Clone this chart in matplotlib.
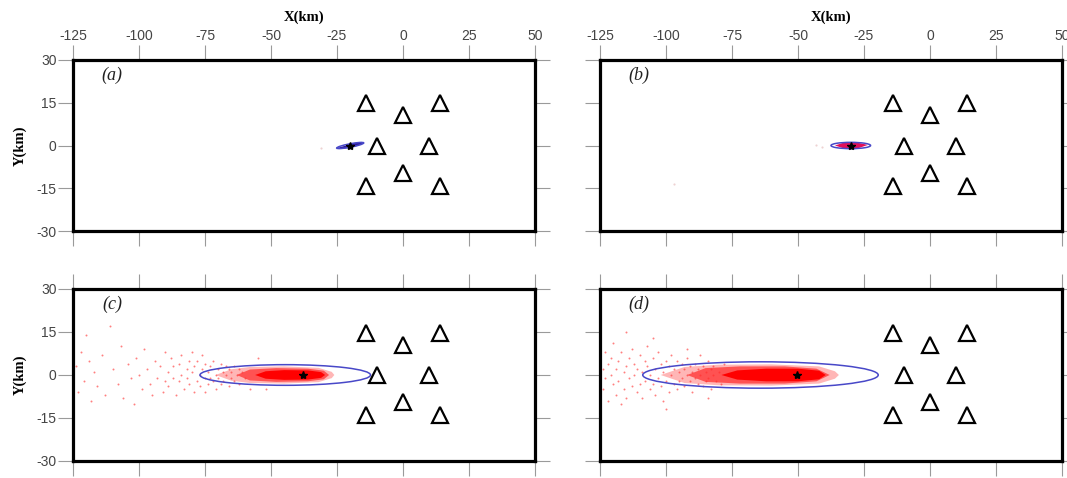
import numpy as np
import matplotlib.pyplot as plt
from matplotlib.patches import Ellipse, Polygon

plt.rcParams['font.family'] = 'Liberation Sans'
plt.rcParams['axes.unicode_minus'] = False

x_ticks = [-125, -100, -75, -50, -25, 0, 25, 50]
y_ticks = [-30, -15, 0, 15, 30]
panel_labels = ['(a)', '(b)', '(c)', '(d)']

# stations
sta_x = [-14, 0, 14, -10, 10, 0, -14, 14]
sta_y = [14.7, 10.5, 14.7, 0, 0, -9.5, -14, -14]

# true / located event
star_x = [-20, -30, -38, -50.5]
star_y = [0, 0, 0, 0]

# error ellipses
ell_x = [-20, -30, -44.6, -64.2]
ell_y = [0, 0, 0, 0]
ell_a = [5.2, 7.5, 32.3, 44.6]
ell_b = [0.6, 1.1, 3.6, 4.6]
ell_ang = [10, 0, 0, 0]

# dense part of the solution cloud (outlines)
a_core_x = [-25.1, -22, -19.5, -17, -14.8, -17, -19.5, -22]
a_core_y = [-0.9, -0.1, 0.8, 0.9, 0.8, 0.0, -0.8, -1.0]
b_core_x = [-36, -33, -27, -23.5, -27, -33]
b_core_y = [0, 0.9, 0.9, 0.2, -0.9, -0.9]
c_halo_x = [-71, -65, -58, -45, -32, -27, -26, -27, -32, -45, -58, -65]
c_halo_y = [0, 2.0, 2.8, 3.0, 2.5, 1.1, 0, -1.1, -2.5, -3.0, -2.8, -2.0]
c_mid_x = [-63, -58, -48, -36, -30, -28, -30, -36, -48, -58]
c_mid_y = [0, 1.9, 2.4, 2.2, 1.5, 0, -1.5, -2.2, -2.4, -1.9]
c_core_x = [-56, -52, -45, -36, -31, -29.5, -31, -36, -45, -52]
c_core_y = [0, 1.3, 1.7, 1.6, 1.0, 0, -1.0, -1.6, -1.7, -1.3]
d_halo_x = [-102, -93, -80, -60, -42, -36, -34.5, -36, -42, -60, -80, -93]
d_halo_y = [0, 2.8, 3.6, 3.7, 3.0, 1.3, 0, -1.3, -3.0, -3.7, -3.6, -2.8]
d_mid_x = [-92, -85, -72, -55, -43, -38, -43, -55, -72, -85]
d_mid_y = [0, 2.4, 3.0, 3.0, 2.2, 0, -2.2, -3.0, -3.0, -2.4]
d_core_x = [-79, -73, -62, -50, -42, -39.5, -42, -50, -62, -73]
d_core_y = [0, 1.6, 2.2, 2.2, 1.5, 0, -1.5, -2.2, -2.2, -1.6]

# scattered solutions
c_dots_x = [-124, -123, -122, -121, -120, -119, -118, -117, -116, -114, -113, -111, -110, -108, -107, -106,
            -104, -103, -102, -101, -100, -99, -98, -97, -96, -95, -94, -93, -92, -91, -90, -90,
            -89, -89, -88, -87, -87, -86, -85, -85, -84, -84, -83, -82, -82, -81, -81, -80, -80, -79,
            -79, -78, -78, -77, -77, -76, -76, -75, -75, -75,
            -74, -74, -73, -73, -72, -72, -71, -71, -70, -70, -69, -69, -68, -68, -67, -67, -66, -66,
            -65, -65, -64, -64, -63, -62, -62, -61, -60, -58, -55, -52]
c_dots_y = [3, -6, 8, -2, 14, 5, -9, 1, -4, 7, -7, 17, 2, -3, 10, -8,
            4, -1, -10, 6, 0, -5, 9, 2, -3, -7, 5, -1, 3, -6, 8, -2,
            1, -4, 6, -1, 3, -7, 4, -2, 7, 0, -5, 2, -1, 5, -3, 8, 1, -6,
            3, -2, 5, 0, -4, 7, 2, -1, -6, 4,
            1, -3, 3, -1, 5, -2, 0, -5, 2, -1, 4, -3, 1, -2, 3, 0, -4, 2,
            -1, 1, 3, -2, 0, 2, -3, 1, -1, -5, 6, -5]
d_dots_x = [-124, -124, -123, -123, -122, -122, -121, -121, -120, -120, -119, -119, -118, -118, -117,
            -117, -116, -116, -115, -115, -114, -114, -113, -113, -112, -112, -111, -111, -110, -110,
            -109, -109, -108, -108, -107, -107, -106, -106, -105, -105, -104, -104, -103, -103, -102,
            -102, -101, -101, -100, -100, -99, -99, -98, -98, -97, -97, -96, -96, -95, -95,
            -94, -94, -93, -93, -92, -92, -91, -91, -90, -90, -89, -89, -88, -88, -87, -87, -86, -86,
            -85, -85, -84, -84, -83, -83, -82, -82, -81, -80, -79, -78,
            -105, -92, -84, -115, -100]
d_dots_y = [2, -5, 8, -1, 4, -9, 0, 6, -3, 11, -7, 2, 5, -2, -10,
            8, 1, -5, 3, -8, 6, -1, 9, -4, 0, 4, -6, 2, 7, -3,
            1, -8, 5, -2, 10, 3, -5, 0, 6, -3, 2, -7, 8, -1, 4,
            -4, -9, 1, 5, -2, 3, -6, 7, 0, -3, 2, 5, -5, 1, -2,
            4, -1, -4, 2, 6, 0, -2, 3, -6, 1, 4, -1, 2, -3, 7, 0, -4, 3,
            1, -2, 5, -1, 2, -5, 0, 3, -2, 1, -3, 4,
            13, 9, -8, 15, -12]
faint_x = [-31, -41, -43, -97]
faint_y = [-1, -0.4, 0.3, -13.4]
faint_panel = [0, 1, 1, 1]

cores = [(a_core_x, a_core_y, '#2e1a9a'), (b_core_x, b_core_y, '#e0105a'),
         (c_core_x, c_core_y, '#ff0000'), (d_core_x, d_core_y, '#ff0000')]
halos = [None, None, [(c_halo_x, c_halo_y, 0.3), (c_mid_x, c_mid_y, 0.6)],
         [(d_halo_x, d_halo_y, 0.3), (d_mid_x, d_mid_y, 0.6)]]
dots = [None, None, (c_dots_x, c_dots_y), (d_dots_x, d_dots_y)]

fig = plt.figure(figsize=(10.67, 4.78), dpi=100)
rects = [[0.0684, 0.5157, 0.433, 0.3598], [0.5623, 0.5157, 0.433, 0.3598],
         [0.0684, 0.0356, 0.433, 0.3598], [0.5623, 0.0356, 0.433, 0.3598]]

for i in range(4):
    ax = fig.add_axes(rects[i])
    ax.set_xlim(-125, 50)
    ax.set_ylim(-30, 30)
    ax.set_xticks(x_ticks)
    ax.set_yticks(y_ticks)
    for s in ax.spines.values():
        s.set_linewidth(2.3)
    ax.tick_params(direction='out', top=True, right=True, length=10.8, width=0.8,
                   color='#9a9a9a', labelcolor='#444444', labelsize=10, pad=1,
                   labeltop=(i < 2), labelbottom=False, labelleft=(i % 2 == 0), labelright=False)
    if i < 2:
        ax.xaxis.set_label_position('top')
        ax.set_xlabel('X(km)', family='Liberation Serif', fontweight='bold', fontsize=10.5, labelpad=6)
    if i % 2 == 0:
        ax.set_ylabel('Y(km)', family='Liberation Serif', fontweight='bold', fontsize=10.5, labelpad=7)

    if halos[i] is not None:
        for hx, hy, al in halos[i]:
            ax.add_patch(Polygon(np.column_stack([hx, hy]), closed=True, fc='#ff1010', ec='none',
                                 alpha=al, zorder=2))
    if dots[i] is not None:
        dx, dy = dots[i]
        ax.scatter(dx, dy, s=2.0, color='#ff2a2a', alpha=0.6, linewidths=0, zorder=2)
    cx, cy, cc = cores[i]
    ax.add_patch(Polygon(np.column_stack([cx, cy]), closed=True, fc=cc, ec='none', zorder=3))
    for fx, fy, fp in zip(faint_x, faint_y, faint_panel):
        if fp == i:
            ax.scatter([fx], [fy], s=2.5, color='#d08080', alpha=0.35, linewidths=0, zorder=2)

    ax.add_patch(Ellipse((ell_x[i], ell_y[i]), 2 * ell_a[i], 2 * ell_b[i], angle=ell_ang[i],
                         fill=False, ec='#4848c8', lw=1.1, zorder=4))
    ax.plot(star_x[i], star_y[i], marker='*', ms=6, color='black', ls='none', zorder=5)
    ax.plot(sta_x, sta_y, marker='^', ms=11.5, mfc='none', mec='black', mew=1.6, ls='none', zorder=5)

    ax.text(-110.2, 24.6, panel_labels[i], family='Liberation Serif', style='italic',
            fontsize=13, ha='center', va='center', color='#222222')

fig.savefig('out.png', dpi=100)
